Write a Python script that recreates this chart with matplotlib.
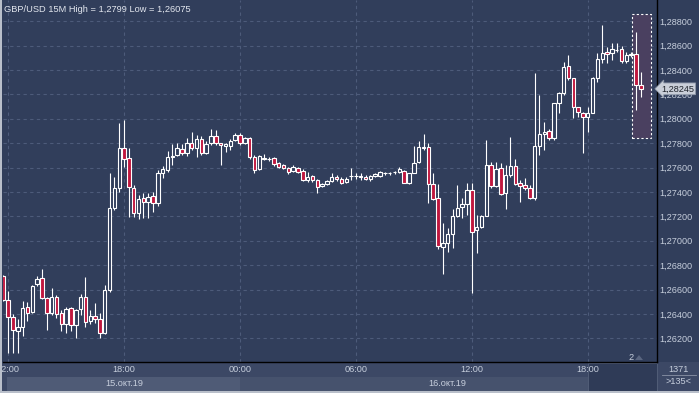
import matplotlib
matplotlib.use("Agg")
import matplotlib.pyplot as plt
import matplotlib.transforms as mtransforms
from matplotlib.patches import Rectangle, Polygon
import numpy as np

# GBP/USD 15M candles, 15.10.2019 11:45 .. 16.10.2019 20:45
opens = [1.26711, 1.26514, 1.26372, 1.26262, 1.26295, 1.26454, 1.26413, 1.26645, 1.26692, 1.26528,
         1.26410, 1.26541, 1.26405, 1.26315, 1.26446, 1.26309, 1.26438, 1.26541, 1.26339, 1.26380,
         1.26356, 1.26246, 1.26593, 1.27266, 1.27430, 1.27757, 1.27675, 1.27436, 1.27231, 1.27348,
         1.27320, 1.27369, 1.27307, 1.27559, 1.27581, 1.27684, 1.27703, 1.27752, 1.27716, 1.27798,
         1.27757, 1.27831, 1.27721, 1.27798, 1.27862, 1.27798, 1.27776, 1.27776, 1.27825, 1.27866,
         1.27798, 1.27839, 1.27689, 1.27585, 1.27672, 1.27670, 1.27675, 1.27634, 1.27621, 1.27593,
         1.27574, 1.27596, 1.27574, 1.27498, 1.27530, 1.27498, 1.27451, 1.27462, 1.27492, 1.27520,
         1.27503, 1.27481, 1.27528, 1.27530, 1.27525, 1.27525, 1.27503, 1.27530, 1.27533, 1.27552,
         1.27552, 1.27561, 1.27561, 1.27575, 1.27473, 1.27557, 1.27643, 1.27771, 1.27771, 1.27462,
         1.27348, 1.26951, 1.26984, 1.27052, 1.27205, 1.27274, 1.27298, 1.27416, 1.27085, 1.27110,
         1.27205, 1.27620, 1.27448, 1.27593, 1.27389, 1.27539, 1.27612, 1.27471, 1.27454, 1.27430,
         1.27348, 1.27776, 1.27872, 1.27902, 1.27839, 1.28126, 1.28208, 1.28435, 1.28331, 1.28094,
         1.28049, 1.28016, 1.28049, 1.28331, 1.28487, 1.28544, 1.28536, 1.28563, 1.28569, 1.28475,
         1.28526, 1.28528, 1.28276]
highs = [1.26720, 1.26590, 1.26399, 1.26361, 1.26502, 1.26500, 1.26641, 1.26707, 1.26766, 1.26539,
         1.26610, 1.26555, 1.26432, 1.26454, 1.26459, 1.26440, 1.26561, 1.26705, 1.26432, 1.26487,
         1.26405, 1.26637, 1.27552, 1.27525, 1.27962, 1.27990, 1.27757, 1.27457, 1.27375, 1.27389,
         1.27389, 1.27397, 1.27579, 1.27612, 1.27739, 1.27789, 1.27798, 1.27793, 1.27839, 1.27889,
         1.27867, 1.27858, 1.27817, 1.27913, 1.27907, 1.27805, 1.27798, 1.27831, 1.27880, 1.27885,
         1.27852, 1.27852, 1.27703, 1.27703, 1.27708, 1.27689, 1.27689, 1.27643, 1.27629, 1.27607,
         1.27621, 1.27607, 1.27585, 1.27566, 1.27539, 1.27503, 1.27475, 1.27498, 1.27552, 1.27539,
         1.27520, 1.27525, 1.27593, 1.27552, 1.27552, 1.27536, 1.27539, 1.27557, 1.27571, 1.27566,
         1.27566, 1.27574, 1.27602, 1.27580, 1.27555, 1.27780, 1.27820, 1.27875, 1.27798, 1.27552,
         1.27465, 1.27143, 1.27102, 1.27257, 1.27457, 1.27348, 1.27471, 1.27471, 1.27211, 1.27211,
         1.27825, 1.27648, 1.27648, 1.27634, 1.27620, 1.27852, 1.27667, 1.27498, 1.27512, 1.27457,
         1.28372, 1.28194, 1.27975, 1.27912, 1.28131, 1.28221, 1.28467, 1.28522, 1.28331, 1.28098,
         1.28057, 1.28098, 1.28344, 1.28536, 1.28768, 1.28585, 1.28618, 1.28623, 1.28596, 1.28549,
         1.28549, 1.28713, 1.28385]
lows = [1.26510, 1.26077, 1.26082, 1.26079, 1.26223, 1.26344, 1.26407, 1.26629, 1.26520, 1.26272,
        1.26391, 1.26366, 1.26262, 1.26246, 1.26262, 1.26205, 1.26393, 1.26295, 1.26317, 1.26323,
        1.26200, 1.26239, 1.26582, 1.27252, 1.27402, 1.27607, 1.27197, 1.27198, 1.27175, 1.27184,
        1.27190, 1.27235, 1.27284, 1.27514, 1.27567, 1.27621, 1.27694, 1.27703, 1.27694, 1.27743,
        1.27684, 1.27703, 1.27711, 1.27784, 1.27784, 1.27621, 1.27730, 1.27743, 1.27817, 1.27784,
        1.27789, 1.27667, 1.27552, 1.27576, 1.27662, 1.27656, 1.27612, 1.27598, 1.27585, 1.27544,
        1.27566, 1.27557, 1.27489, 1.27484, 1.27484, 1.27389, 1.27443, 1.27457, 1.27484, 1.27492,
        1.27462, 1.27475, 1.27498, 1.27503, 1.27498, 1.27498, 1.27492, 1.27520, 1.27525, 1.27536,
        1.27539, 1.27547, 1.27552, 1.27471, 1.27462, 1.27552, 1.27634, 1.27743, 1.27312, 1.27330,
        1.26930, 1.26725, 1.26910, 1.26938, 1.27197, 1.27184, 1.27211, 1.26569, 1.26902, 1.27102,
        1.27202, 1.27430, 1.27438, 1.27375, 1.27257, 1.27525, 1.27457, 1.27321, 1.27416, 1.27339,
        1.27334, 1.27703, 1.27743, 1.27825, 1.27825, 1.28044, 1.28194, 1.28317, 1.28003, 1.28016,
        1.27721, 1.27893, 1.28044, 1.28303, 1.28454, 1.28454, 1.28481, 1.28549, 1.28459, 1.28454,
        1.28508, 1.28071, 1.28175]
closes = [1.26514, 1.26372, 1.26268, 1.26295, 1.26446, 1.26405, 1.26631, 1.26689, 1.26528, 1.26405,
          1.26541, 1.26403, 1.26317, 1.26440, 1.26309, 1.26432, 1.26541, 1.26334, 1.26385, 1.26356,
          1.26241, 1.26593, 1.27266, 1.27430, 1.27757, 1.27667, 1.27438, 1.27225, 1.27344, 1.27315,
          1.27361, 1.27307, 1.27552, 1.27584, 1.27684, 1.27694, 1.27757, 1.27716, 1.27798, 1.27757,
          1.27831, 1.27716, 1.27795, 1.27858, 1.27798, 1.27784, 1.27790, 1.27820, 1.27866, 1.27798,
          1.27839, 1.27686, 1.27580, 1.27694, 1.27675, 1.27667, 1.27629, 1.27607, 1.27593, 1.27561,
          1.27602, 1.27566, 1.27498, 1.27525, 1.27498, 1.27438, 1.27465, 1.27489, 1.27520, 1.27503,
          1.27471, 1.27508, 1.27533, 1.27531, 1.27526, 1.27503, 1.27530, 1.27544, 1.27561, 1.27555,
          1.27554, 1.27563, 1.27585, 1.27477, 1.27552, 1.27641, 1.27771, 1.27760, 1.27462, 1.27339,
          1.26957, 1.26984, 1.27052, 1.27202, 1.27266, 1.27298, 1.27416, 1.27074, 1.27112, 1.27205,
          1.27620, 1.27448, 1.27585, 1.27380, 1.27539, 1.27612, 1.27465, 1.27448, 1.27430, 1.27348,
          1.27776, 1.27872, 1.27894, 1.27839, 1.28126, 1.28208, 1.28426, 1.28331, 1.28094, 1.28057,
          1.28016, 1.28049, 1.28331, 1.28487, 1.28541, 1.28530, 1.28569, 1.28565, 1.28473, 1.28522,
          1.28528, 1.28276, 1.28245]

time_labels = ["12:00", "18:00", "00:00", "06:00", "12:00", "18:00"]
time_pos = [1, 25, 49, 73, 97, 121]
date_labels = ["15.окт.19", "16.окт.19"]
price_ticks = [1.262, 1.264, 1.266, 1.268, 1.270, 1.272, 1.274, 1.276, 1.278,
               1.280, 1.282, 1.284, 1.286, 1.288]
last_price = 1.28245

BG = "#313e5b"
GRID = "#4d5b7a"
TXT = "#c6cedc"
RED = "#c0173e"
STRIP = "#3c4865"

plt.rcParams["font.family"] = ["Liberation Sans", "DejaVu Sans"]

W, H = 699, 393
fig = plt.figure(figsize=(W / 100, H / 100), dpi=100)
fig.patch.set_facecolor(BG)

left_px, right_px, bottom_px, top_px = 2.5, 657, 362, 0
ax = fig.add_axes([left_px / W, (H - bottom_px) / H,
                   (right_px - left_px) / W, (bottom_px - top_px) / H])
ax.set_facecolor(BG)

# bottom strip behind everything
fig.add_artist(Rectangle((0, 0), 1, (H - bottom_px) / H, transform=fig.transFigure,
                         facecolor=STRIP, lw=0, zorder=-5))

n = len(opens)
x = np.arange(n)
o, h, l, c = map(np.array, (opens, highs, lows, closes))

# wicks
ax.vlines(x, l, h, color="white", lw=0.8, zorder=3)
# bodies
up = c >= o
bottom = np.minimum(o, c)
height = np.maximum(np.abs(c - o), 0.00002)
ax.bar(x[up], height[up], bottom=bottom[up], width=0.72,
       facecolor=BG, edgecolor="white", linewidth=0.8, zorder=4)
ax.bar(x[~up], height[~up], bottom=bottom[~up], width=0.72,
       facecolor=RED, edgecolor="white", linewidth=0.8, zorder=4)

ax.set_xlim(-0.17, -0.17 + (right_px - left_px) / 4.83)
ax.set_ylim(1.26006, 1.28973)

# grid
for p in price_ticks:
    ax.axhline(p, color=GRID, lw=0.8, ls=(0, (3, 3)), zorder=1)
for t in time_pos:
    ax.axvline(t, color=GRID, lw=0.8, ls=(0, (3, 3)), zorder=1)

# highlight box around last candles
ax.add_patch(Rectangle((130.2, 1.27842), 3.95, 1.28856 - 1.27842,
                       facecolor="#4a4060", edgecolor="white", lw=0.8,
                       ls=(0, (2, 2)), zorder=2))

# price axis on the right
ax.yaxis.tick_right()
ax.set_yticks(price_ticks)
ax.set_yticklabels([f"{p:.5f}".replace(".", ",") for p in price_ticks])
ax.tick_params(axis="y", length=0, pad=1.5, labelsize=6.6, labelcolor=TXT)

ax.set_xticks(time_pos)
ax.set_xticklabels(time_labels)
ax.tick_params(axis="x", length=0, pad=2.5, labelsize=6.6, labelcolor=TXT)

for s in ("top", "left"):
    ax.spines[s].set_visible(False)
for s in ("right", "bottom"):
    ax.spines[s].set_color("black")
    ax.spines[s].set_linewidth(1)

# date bands under the time labels
trans = mtransforms.blended_transform_factory(ax.transData, fig.transFigure)
ax.add_patch(Rectangle((0.7, 2 / H), 48.3, 14 / H, transform=trans, facecolor="#4f5b76",
                       lw=0, clip_on=False, zorder=0))
ax.add_patch(Rectangle((49, 2 / H), 72, 14 / H, transform=trans, facecolor="#46526d",
                       lw=0, clip_on=False, zorder=0))
# scroll thumb at the right end of the time strip
ax.add_patch(Rectangle((121, 2 / H), 14.3, 28 / H, transform=trans, facecolor="#2f3b57",
                       edgecolor="#56627c", lw=0.6, clip_on=False, zorder=0))
ax.text(25, 10 / H, date_labels[0], transform=trans, ha="center", va="center",
        fontsize=6.6, color=TXT)
ax.text(92, 10 / H, date_labels[1], transform=trans, ha="center", va="center",
        fontsize=6.6, color=TXT)

# current price marker
ax.annotate(f"{last_price:.5f}".replace(".", ","), xy=(1.0, last_price),
            xycoords=("axes fraction", "data"), xytext=(3, 0), textcoords="offset points",
            ha="left", va="center", fontsize=6.6, color="#20242c", zorder=10,
            annotation_clip=False,
            bbox=dict(boxstyle="larrow,pad=0.15", fc="#c9ced8", ec="#8e97a8", lw=0.6))

# header
ax.text(0.003, 0.985, "GBP/USD 15M High = 1,2799 Low = 1,26075", transform=ax.transAxes,
        ha="left", va="top", fontsize=6.7, color="#e2e6ee")

# bar counter
fig.text(679 / W, (H - 369) / H, "1371", ha="center", va="center", fontsize=6.6, color=TXT)
fig.text(679 / W, (H - 382) / H, ">135<", ha="center", va="center", fontsize=6.6, color=TXT)
fig.add_artist(plt.Line2D([662 / W, 696 / W], [(H - 375) / H] * 2,
                          transform=fig.transFigure, color="#8a93a6", lw=0.6))
fig.text(631 / W, (H - 357) / H, "2", ha="center", va="center", fontsize=6.6, color=TXT)
fig.add_artist(Polygon([[635 / W, (H - 360) / H], [643 / W, (H - 360) / H],
                        [639 / W, (H - 355) / H]], closed=True, transform=fig.transFigure,
                       facecolor="#5a6680", lw=0))

# light outer frame
fig.add_artist(Rectangle((0, 0), 2 / W, 1, transform=fig.transFigure,
                         facecolor="#b9bfca", lw=0, zorder=5))
fig.add_artist(Rectangle((0, 0), 1, 2 / H, transform=fig.transFigure,
                         facecolor="#b9bfca", lw=0, zorder=5))

fig.savefig("out.png", dpi=100, facecolor=fig.get_facecolor())
